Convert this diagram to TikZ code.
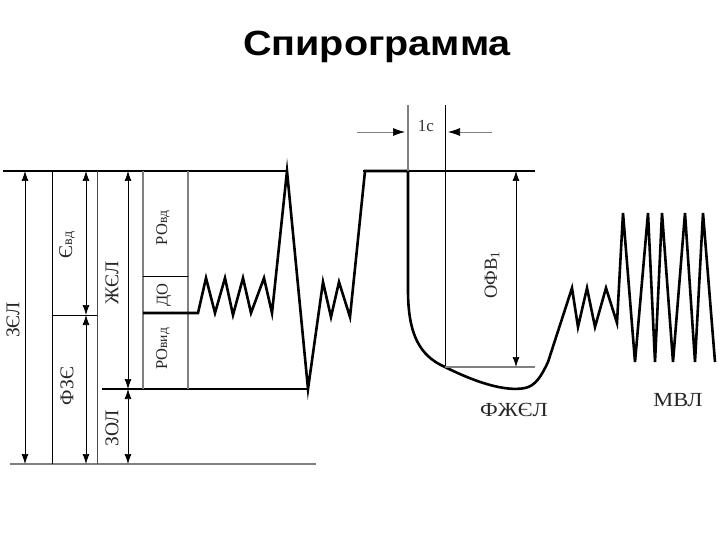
\documentclass[tikz,border=0pt]{standalone}
\usepackage{fontspec}
\setmainfont{Liberation Serif}
\newfontfamily\titolofont{Liberation Sans}
\usetikzlibrary{positioning,arrows.meta}

\definecolor{grigio}{gray}{0.5}

\tikzset{
  quota/.style={{Latex[length=10pt,width=7pt]}-{Latex[length=10pt,width=7pt]}, line width=0.7pt},
  freccia/.style={-{Latex[length=12pt,width=8pt,black]}, line width=0.7pt, grigio},
  etich/.style={rotate=90, font=\fontsize{19.5}{19.5}\selectfont, inner sep=0pt, text=black!85},
  etichbox/.style={rotate=90, font=\fontsize{16.5}{16.5}\selectfont, inner sep=0pt, text=black!85},
  scritta/.style={font=\fontsize{20}{20}\selectfont, text=black!85, xscale=1.12},
  curva/.style={line width=2.6pt, line join=miter, line cap=butt},
  livello/.style={line width=1.6pt},
  guida/.style={line width=0.8pt},
  guidagr/.style={line width=1.4pt, grigio},
}

\begin{document}
\begin{tikzpicture}[x=1pt, y=-1pt]
  \useasboundingbox (0,0) rectangle (720,540);

  % Titolo
  \node[font=\titolofont\bfseries\fontsize{35}{35}\selectfont, xscale=1.13] (titolo) at (377,47) {Спирограмма};

  % Livelli orizzontali
  \coordinate (maxA) at (3,171);
  \coordinate (maxB) at (287,171);
  \coordinate (maxC) at (363,171);
  \coordinate (maxD) at (535,171);
  \coordinate (minA) at (102,389);
  \coordinate (minB) at (308,389);
  \coordinate (basA) at (10,464);
  \coordinate (basB) at (316,464);
  \draw[livello] (maxA) -- (maxB);
  \draw[line width=1.2pt] (maxC) -- (maxD);
  \draw[livello] (minA) -- (minB);
  \draw[guidagr, line width=1.6pt] (basA) -- (basB);

  % Colonne a sinistra
  \draw[guida] (52,171) -- (52,464);
  \draw[guida, black!70] (97,171) -- (97,464);
  \draw[guidagr] (143,171) -- (143,389);
  \draw[guidagr] (188,171) -- (188,389);
  \draw[guida] (52,315) -- (97,315);
  \draw[guida] (143,276) -- (188,276);

  % Quote verticali
  \coordinate (zelA) at (25,171);
  \coordinate (zelB) at (25,464);
  \coordinate (evdA) at (86,171);
  \coordinate (evdB) at (86,315);
  \coordinate (fzeB) at (86,464);
  \coordinate (zhelA) at (128,171);
  \coordinate (zhelB) at (128,389);
  \coordinate (zolB) at (128,464);
  \draw[quota] (zelA) -- (zelB);
  \draw[quota] (evdA) -- (evdB);
  \draw[quota] (evdB) -- (fzeB);
  \draw[quota] (zhelA) -- (zhelB);
  \draw[quota] (zhelB) -- (zolB);

  \node[etich] (zel) at (13,320) {ЗЄЛ};
  \node[etich] (evd) at (67,245) {Є{\fontsize{14}{14}\selectfont вд}};
  \node[etich] (fze) at (67,386) {ФЗЄ};
  \node[etich] (zhel) at (112,283) {ЖЄЛ};
  \node[etich] (zol) at (112,428) {ЗОЛ};
  \node[etichbox] (rovd) at (163,228) {РО{\fontsize{13.5}{13.5}\selectfont вд}};
  \node[etichbox] (do) at (164,295) {ДО};
  \node[etichbox] (rovyd) at (163,349) {РО{\fontsize{13.5}{13.5}\selectfont вид}};

  % Spirogramma
  \draw[curva] (143,313) -- (198,313) -- (206,278) -- (215,313) -- (225,278)
    -- (233,315) -- (243,278) -- (251,313) -- (264,278) -- (272,313)
    -- (287,171) -- (308,389) -- (323,282) -- (331,317) -- (339,282)
    -- (350,317) -- (365,171) -- (408,171) -- (408,290)
    .. controls (408,335) and (420,356) .. (445,367)
    .. controls (475,382) and (505,392) .. (525,388)
    .. controls (535,386) and (541,377) .. (548,362)
    -- (572,288) -- (578,327) -- (587,288) -- (595,327) -- (606,288)
    -- (617,323) -- (623,213) -- (635,362) -- (648,213) -- (655,362)
    -- (662,213) -- (673,362) -- (685,213) -- (695,362) -- (703,213)
    -- (715,362);

  % Intervallo di 1 s
  \coordinate (sA) at (408,105);
  \coordinate (sB) at (408,171);
  \coordinate (tA) at (445,105);
  \coordinate (tB) at (445,367);
  \coordinate (ofvD) at (535,367);
  \draw[guidagr] (sA) -- (sB);
  \draw[guida] (tA) -- (tB);
  \draw[guidagr, line width=1.2pt] (tB) -- (ofvD);
  \coordinate (fsA) at (357,132);
  \coordinate (fsB) at (405,132);
  \coordinate (fdA) at (492,132);
  \coordinate (fdB) at (448,132);
  \draw[freccia] (fsA) -- (fsB);
  \draw[freccia] (fdA) -- (fdB);
  \node[font=\fontsize{17}{17}\selectfont, text=black!80] (sec) at (426,126) {1с};

  % OFV1
  \coordinate (ofvA) at (516,171);
  \coordinate (ofvB) at (516,367);
  \draw[quota] (ofvA) -- (ofvB);
  \node[etich, font=\fontsize{18.5}{18.5}\selectfont] (ofv) at (492,275) {ОФВ\textsubscript{1}};

  % Etichette in basso
  \node[scritta] (fzhel) at (514,410) {ФЖЄЛ};
  \node[scritta] (mvl) at (678,400) {МВЛ};
\end{tikzpicture}
\end{document}
